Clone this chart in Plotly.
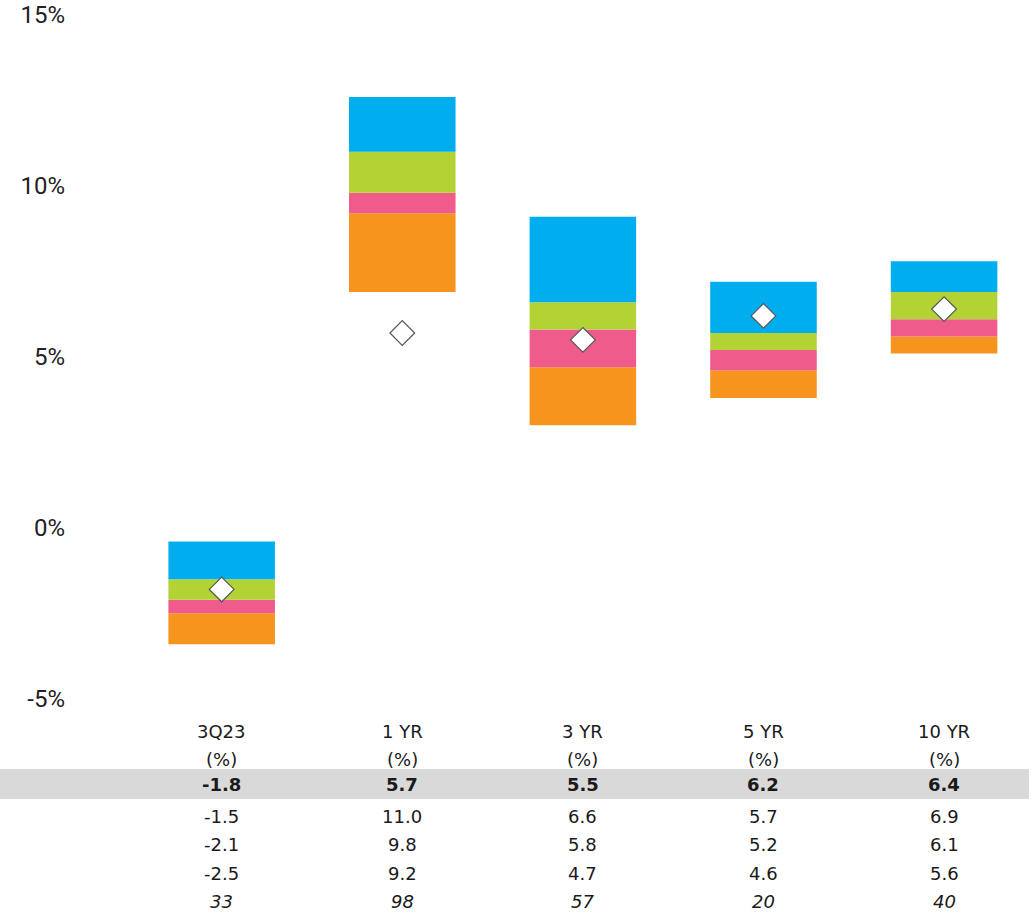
import plotly.graph_objects as go

# ---------------- data ----------------
periods = ["3Q23", "1 YR", "3 YR", "5 YR", "10 YR"]
index_return = [-1.8, 5.7, 5.5, 6.2, 6.4]      # diamond / highlighted row
pct_5th = [-0.4, 12.6, 9.1, 7.2, 7.8]           # top of range (estimated)
pct_25th = [-1.5, 11.0, 6.6, 5.7, 6.9]
pct_median = [-2.1, 9.8, 5.8, 5.2, 6.1]
pct_75th = [-2.5, 9.2, 4.7, 4.6, 5.6]
pct_95th = [-3.4, 6.9, 3.0, 3.8, 5.1]           # bottom of range (estimated)
counts = [33, 98, 57, 20, 40]
y_tick_vals = [-5, 0, 5, 10, 15]
y_tick_text = ["-5%", "0%", "5%", "10%", "15%"]

# ---------------- styling ----------------
W, H = 1029, 914
L, R, T, B = 66, 10, 5, 202
PW, PH = W - L - R, H - T - B
PLOT_BOTTOM = H - B
Y_RANGE = [-5.385, 15.294]
X_RANGE = [-0.862, -0.862 + PW / 180.6]
BAR_W = 0.59
BLUE, GREEN, PINK, ORANGE = "#00AEEF", "#B3D335", "#EF5B8A", "#F7941D"
TICK_FONT = "Roboto, Arial, sans-serif"
TABLE_FONT = "DejaVu Sans, Lato, sans-serif"
TXT = "#1a1a1a"


def pp(py):
    """pixel row -> paper y"""
    return (PLOT_BOTTOM - py) / PH


xs = list(range(len(periods)))
fig = go.Figure()

segments = [
    (pct_95th, pct_75th, ORANGE),
    (pct_75th, pct_median, PINK),
    (pct_median, pct_25th, GREEN),
    (pct_25th, pct_5th, BLUE),
]
for lo, hi, col in segments:
    fig.add_trace(go.Bar(
        x=xs, y=[h - l for l, h in zip(lo, hi)], base=lo, width=BAR_W,
        marker=dict(color=col, line=dict(width=0)), showlegend=False,
        hoverinfo="skip",
    ))

fig.add_trace(go.Scatter(
    x=xs, y=index_return, mode="markers", showlegend=False,
    marker=dict(symbol="diamond", size=19, color="white",
                line=dict(color="#555555", width=1.2)),
))

# table band
fig.add_shape(type="rect", xref="paper", yref="paper",
              x0=-L / PW, x1=1 + R / PW, y0=pp(799), y1=pp(769),
              fillcolor="#D9D9D9", line=dict(width=0), layer="below")

ann = []
def add_text(x, py, text, size=18, bold=False, italic=False):
    if bold:
        text = f"<b>{text}</b>"
    if italic:
        text = f"<i>{text}</i>"
    ann.append(dict(x=x, y=pp(py), xref="x", yref="paper", text=text,
                    showarrow=False, xanchor="center", yanchor="middle",
                    font=dict(family=TABLE_FONT, size=size, color=TXT)))

for i, p in enumerate(periods):
    add_text(i, 731, p)
    add_text(i, 759, "(%)")
    add_text(i, 785, f"{index_return[i]:.1f}", bold=True)
    add_text(i, 816, f"{pct_25th[i]:.1f}")
    add_text(i, 844, f"{pct_median[i]:.1f}")
    add_text(i, 873, f"{pct_75th[i]:.1f}")
    add_text(i, 901, f"{counts[i]}", italic=True)

fig.update_layout(
    width=W, height=H, margin=dict(l=L, r=R, t=T, b=B, autoexpand=False),
    paper_bgcolor="white", plot_bgcolor="white",
    barmode="overlay", annotations=ann,
    xaxis=dict(range=X_RANGE, showgrid=False, zeroline=False,
               showticklabels=False, showline=False, ticks="",
               automargin=False),
    yaxis=dict(range=Y_RANGE, tickvals=y_tick_vals, ticktext=y_tick_text,
               showgrid=False, zeroline=False, showline=False, ticks="",
               ticklabeloverflow="allow", automargin=False,
               tickfont=dict(family=TICK_FONT, size=24, color="#222222")),
)

fig.write_html("out.html")
